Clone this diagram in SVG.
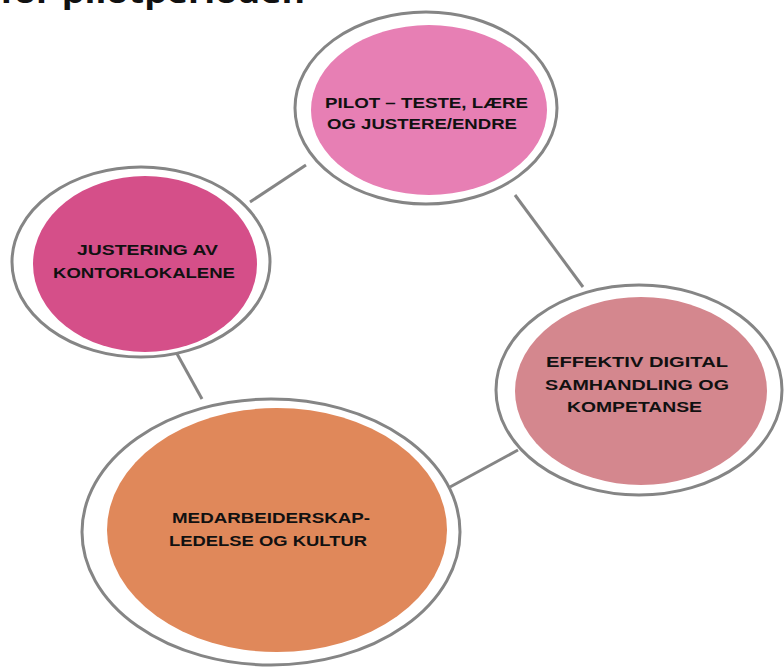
<svg xmlns="http://www.w3.org/2000/svg" width="784" height="668" viewBox="0 0 784 668">
<style>
.ring{fill:#ffffff;stroke:#858585;stroke-width:3}
.lbl{font-family:"Liberation Sans",Arial,sans-serif;font-weight:bold;font-size:14.5px;fill:#111111}
.conn line{stroke:#858585;stroke-width:3}
.title{font-family:"Open Sans","Liberation Sans",sans-serif;font-weight:700;font-size:28px;fill:#111111}
</style>
<rect width="784" height="668" fill="#ffffff"/>
<text class="title" x="0" y="3" textLength="305" lengthAdjust="spacingAndGlyphs">for pilotperioden</text>
<g id="connectors" class="conn">
<line x1="250" y1="202" x2="306" y2="165"/>
<line x1="515" y1="195" x2="583" y2="287"/>
<line x1="176" y1="352" x2="202" y2="399"/>
<line x1="450" y1="487" x2="518" y2="450"/>
</g>
<g id="node-pilot">
<ellipse class="ring" cx="426" cy="108" rx="131" ry="96"/>
<ellipse cx="429" cy="110" rx="118" ry="85" fill="#E77FB4"/>
<text class="lbl" x="325" y="108" textLength="203" lengthAdjust="spacingAndGlyphs">PILOT – TESTE, LÆRE</text>
<text class="lbl" x="327" y="129" textLength="190" lengthAdjust="spacingAndGlyphs">OG JUSTERE/ENDRE</text>
</g>
<g id="node-justering">
<ellipse class="ring" cx="141" cy="262" rx="129" ry="95"/>
<ellipse cx="145" cy="264" rx="112" ry="88" fill="#D54F89"/>
<text class="lbl" x="77" y="255" textLength="141" lengthAdjust="spacingAndGlyphs">JUSTERING AV</text>
<text class="lbl" x="53" y="278" textLength="182" lengthAdjust="spacingAndGlyphs">KONTORLOKALENE</text>
</g>
<g id="node-digital">
<ellipse class="ring" cx="639" cy="390" rx="143" ry="105"/>
<ellipse cx="641" cy="391" rx="126" ry="94" fill="#D4878E"/>
<text class="lbl" x="546" y="367" textLength="182" lengthAdjust="spacingAndGlyphs">EFFEKTIV DIGITAL</text>
<text class="lbl" x="545" y="390" textLength="184" lengthAdjust="spacingAndGlyphs">SAMHANDLING OG</text>
<text class="lbl" x="567" y="412" textLength="135" lengthAdjust="spacingAndGlyphs">KOMPETANSE</text>
</g>
<g id="node-medarbeiderskap">
<ellipse class="ring" cx="271" cy="532" rx="189" ry="133"/>
<ellipse cx="277" cy="530" rx="170" ry="122" fill="#E0885A"/>
<text class="lbl" x="172" y="523" textLength="198" lengthAdjust="spacingAndGlyphs">MEDARBEIDERSKAP-</text>
<text class="lbl" x="169" y="546" textLength="198" lengthAdjust="spacingAndGlyphs">LEDELSE OG KULTUR</text>
</g>
</svg>
